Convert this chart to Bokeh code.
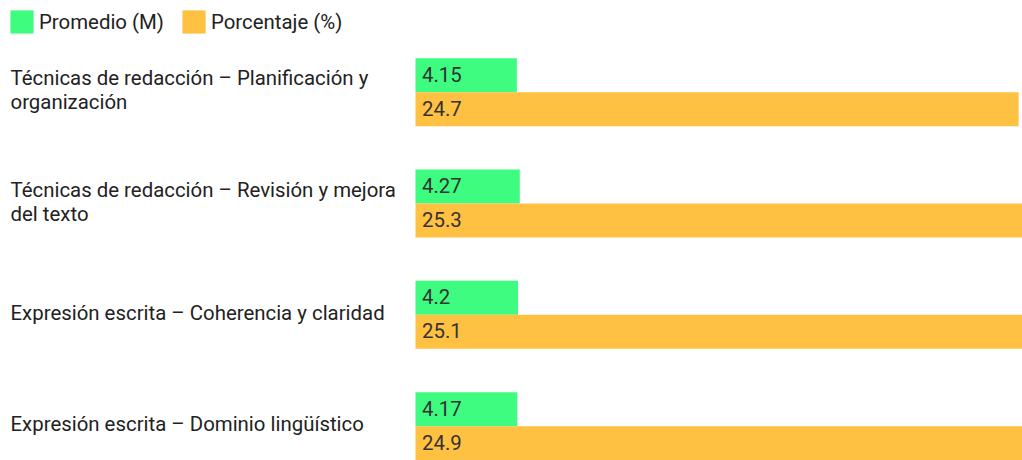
from bokeh.plotting import figure
from bokeh.models import Range1d, Legend, LegendItem, ColumnDataSource
from bokeh.core.properties import value
from bokeh.embed import file_html
from bokeh.resources import INLINE

# ---- data ----
categories = [
    "Técnicas de redacción – Planificación y\norganización",
    "Técnicas de redacción – Revisión y mejora\ndel texto",
    "Expresión escrita – Coherencia y claridad",
    "Expresión escrita – Dominio lingüístico",
]
promedio = [4.15, 4.27, 4.2, 4.17]
porcentaje = [24.7, 25.3, 25.1, 24.9]
promedio_labels = ["4.15", "4.27", "4.2", "4.17"]
porcentaje_labels = ["24.7", "25.3", "25.1", "24.9"]
series_names = ["Promedio (M)", "Porcentaje (%)"]

GREEN = "#3dfc7f"
YELLOW = "#ffc142"
FONT = "Roboto"
FS = "20.4px"

# ---- layout geometry ----
W, H = 1022, 460
PX_X = 24.42            # px per value unit
ZERO_PX = 415           # zero position from figure left
STRIDE = 111.33         # px per category
BAR_PX = 34.0
CENTER0 = 91.7          # first group centre from figure top

x_start = -ZERO_PX / PX_X
x_end = (W - ZERO_PX) / PX_X
y_top = -CENTER0 / STRIDE
y_bottom = y_top + H / STRIDE
bar_h = BAR_PX / STRIDE

idx = list(range(len(categories)))
src = ColumnDataSource(dict(
    idx=idx,
    cat=categories,
    prom=promedio,
    porc=porcentaje,
    prom_lbl=promedio_labels,
    porc_lbl=porcentaje_labels,
    y_prom=[i - bar_h / 2 for i in idx],
    y_porc=[i + bar_h / 2 for i in idx],
    x_lab=[x_start] * len(idx),
))

p = figure(
    width=W, height=H,
    x_range=Range1d(x_start, x_end),
    y_range=Range1d(y_bottom, y_top),
    x_axis_location=None, y_axis_location=None,
    toolbar_location=None, output_backend="svg",
    min_border=0,
)
p.grid.visible = False
p.outline_line_color = None

g = p.hbar(y="y_prom", left=0, right="prom", height=bar_h, source=src,
           fill_color=GREEN, line_color=None)
o = p.hbar(y="y_porc", left=0, right="porc", height=bar_h, source=src,
           fill_color=YELLOW, line_color=None)

p.text(x=0, y="y_prom", text="prom_lbl", source=src, x_offset=6.5, y_offset=-1,
       text_font=value(FONT), text_font_size=FS, text_color="#333333",
       text_baseline="middle", text_align="left")
p.text(x=0, y="y_porc", text="porc_lbl", source=src, x_offset=6.5, y_offset=-1,
       text_font=value(FONT), text_font_size=FS, text_color="#333333",
       text_baseline="middle", text_align="left")

p.text(x="x_lab", y="idx", text="cat", source=src, x_offset=10, y_offset=-2,
       text_font=value(FONT), text_font_size=FS, text_color="#222222",
       text_baseline="middle", text_align="left", text_line_height=1.0)

legend = Legend(
    items=[LegendItem(label=series_names[0], renderers=[g]),
           LegendItem(label=series_names[1], renderers=[o])],
    orientation="horizontal", location="top_left",
    margin=7, padding=0, glyph_width=29, glyph_height=29,
    label_standoff=3, spacing=15,
    label_text_font=FONT, label_text_font_size=FS,
    label_text_color="#222222",
    border_line_color=None, background_fill_alpha=0,
)
p.add_layout(legend)

open("out.html", "w").write(file_html(p, INLINE))
